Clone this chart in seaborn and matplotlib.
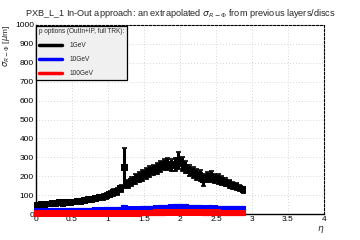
import numpy as np
import pandas as pd
import matplotlib
matplotlib.use("Agg")
import matplotlib.pyplot as plt
import seaborn as sns
from matplotlib.lines import Line2D
from matplotlib.ticker import MultipleLocator

# eta bin centres (0.05 wide bins)
eta = [0.025, 0.075, 0.125, 0.175, 0.225, 0.275, 0.325, 0.375, 0.425, 0.475,
       0.525, 0.575, 0.625, 0.675, 0.725, 0.775, 0.825, 0.875, 0.925, 0.975,
       1.025, 1.075, 1.125, 1.175, 1.225, 1.275, 1.325, 1.375, 1.425, 1.475,
       1.525, 1.575, 1.625, 1.675, 1.725, 1.775, 1.825, 1.875, 1.925, 1.975,
       2.025, 2.075, 2.125, 2.175, 2.225, 2.275, 2.325, 2.375, 2.425, 2.475,
       2.525, 2.575, 2.625, 2.675, 2.725, 2.775, 2.825, 2.875]

sigma_1gev = [48, 50, 52, 53, 55, 58, 60, 58, 62, 63,
              64, 66, 68, 72, 75, 78, 82, 86, 90, 96,
              105, 112, 120, 135, 245, 160, 172, 185, 195, 205,
              215, 225, 232, 242, 252, 262, 265, 258, 262, 285,
              265, 248, 232, 220, 210, 205, 180, 195, 200, 188,
              185, 178, 168, 160, 152, 145, 138, 128]
err_1gev = [10, 10, 10, 10, 10, 11, 11, 11, 11, 11,
            12, 12, 12, 12, 13, 13, 14, 14, 15, 15,
            16, 18, 20, 20, 105, 22, 22, 25, 25, 30,
            28, 28, 28, 28, 30, 30, 32, 32, 35, 45,
            35, 32, 30, 30, 28, 28, 30, 28, 28, 25,
            25, 25, 22, 22, 20, 20, 18, 16]

sigma_10gev = [15, 15, 15, 15, 15, 15, 15, 15, 15, 15,
               15, 15, 16, 16, 16, 16, 17, 17, 18, 20,
               20, 20, 21, 22, 32, 22, 24, 24, 24, 25,
               25, 26, 27, 28, 30, 30, 31, 33, 35, 36,
               36, 35, 32, 31, 30, 30, 29, 29, 30, 28,
               26, 26, 25, 25, 25, 25, 25, 25]

sigma_100gev = [4, 4, 4, 4, 4, 4, 4, 4, 4, 4,
                4, 4, 4, 4, 4, 4, 4, 4, 5, 5,
                5, 5, 5, 5, 6, 5, 5, 5, 5, 6,
                6, 6, 6, 7, 7, 8, 9, 10, 10, 9,
                9, 9, 9, 10, 9, 9, 8, 8, 8, 7,
                7, 6, 6, 6, 6, 6, 6, 6]

labels = ["1GeV", "10GeV", "100GeV"]
colors = ["black", "blue", "red"]

df = pd.DataFrame({
    "eta": eta * 3,
    "sigma": sigma_1gev + sigma_10gev + sigma_100gev,
    "p": [labels[0]] * len(eta) + [labels[1]] * len(eta) + [labels[2]] * len(eta),
})

sns.set_style("white")
plt.rcParams["font.family"] = ["Liberation Sans", "DejaVu Sans"]

fig = plt.figure(figsize=(3.6, 2.4), dpi=100)
ax = fig.add_axes([0.1, 0.108, 0.8, 0.788])

# error bars (ROOT style: horizontal bin width + vertical error)
ax.errorbar(eta, sigma_1gev, yerr=err_1gev, xerr=0.025, fmt="none",
            ecolor="black", elinewidth=2.2, capsize=1.8, capthick=1.2, zorder=3)
ax.errorbar(eta, sigma_10gev, xerr=0.025, yerr=4, fmt="none", ecolor="blue",
            elinewidth=4.5, zorder=3, clip_on=False)
ax.errorbar(eta, sigma_100gev, xerr=0.025, yerr=4, fmt="none", ecolor="red",
            elinewidth=4.5, zorder=4, clip_on=False)

sns.scatterplot(data=df, x="eta", y="sigma", hue="p", palette=colors,
                marker="s", s=24, linewidth=0, legend=False, ax=ax,
                zorder=5, clip_on=False)

ax.set_xlim(0, 4)
ax.set_ylim(0, 1000)
ax.xaxis.set_minor_locator(MultipleLocator(0.1))
ax.yaxis.set_major_locator(MultipleLocator(100))
ax.yaxis.set_minor_locator(MultipleLocator(20))
ax.set_xticks(np.arange(0, 4.01, 0.5))
ax.set_xticklabels(["0", "0.5", "1", "1.5", "2", "2.5", "3", "3.5", "4"])

ax.grid(True, which="major", color="#c8c8c8", linestyle=(0, (1, 2.5)), linewidth=0.6)
ax.tick_params(axis="both", which="both", direction="in", labelsize=6,
               colors="black", pad=1.5, width=0.8)
ax.tick_params(axis="y", which="major", length=6.5)
ax.tick_params(axis="y", which="minor", length=3.4)
ax.tick_params(axis="x", which="major", length=3.6, pad=1.2)
ax.tick_params(axis="x", which="minor", length=2.2)
ax.tick_params(top=False, right=False, which="both")

for side in ["left", "bottom"]:
    ax.spines[side].set_color("black")
    ax.spines[side].set_linewidth(1.0)
for side in ["top", "right"]:
    ax.spines[side].set_color("black")
    ax.spines[side].set_linewidth(0.8)
    ax.spines[side].set_linestyle((0, (2, 1.5)))

ax.set_xlabel(r"$\eta$", fontsize=6.5, loc="right", labelpad=1)
ax.set_ylabel(r"$\sigma_{R-\Phi}$ [$\mu$m]", fontsize=6, loc="top", labelpad=2)
fig.text(0.5, 0.945,
         r"PXB_L_1 In-Out approach: an extrapolated $\sigma_{R-\Phi}$ from previous layers/discs",
         ha="center", va="center", fontsize=6.6)

handles = [Line2D([0], [0], color=c, lw=2.5) for c in colors]
leg = ax.legend(handles, labels, title="p options (OutIn+IP, full TRK):",
                loc="upper left", bbox_to_anchor=(0.0, 0.997), fontsize=4.7,
                title_fontsize=4.7, frameon=True, fancybox=False,
                facecolor="#f0f0f0", edgecolor="black", framealpha=1,
                handlelength=3.6, handletextpad=1.1, labelspacing=1.05,
                borderpad=0.45, borderaxespad=0)
leg._legend_box.align = "left"
leg.get_frame().set_linewidth(0.9)

fig.savefig("out.png", dpi=100, facecolor="white")
